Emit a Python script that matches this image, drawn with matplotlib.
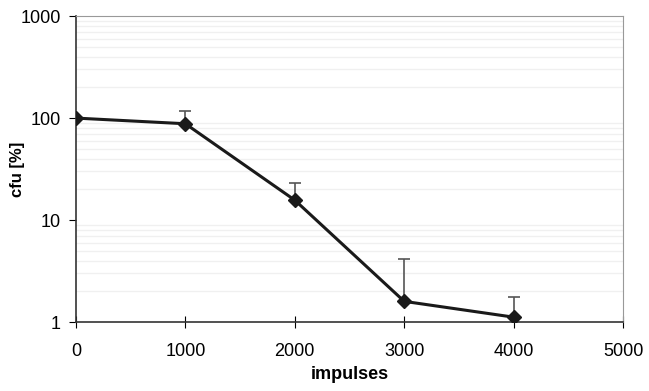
import numpy as np
import matplotlib
matplotlib.use("Agg")
import matplotlib.pyplot as plt
from matplotlib.ticker import LogLocator, FixedLocator, NullFormatter, FuncFormatter

plt.rcParams["font.family"] = ["Liberation Sans", "DejaVu Sans"]

impulses = [0, 1000, 2000, 3000, 4000]
cfu = [100, 88, 15.7, 1.6, 1.12]
cfu_upper = [100, 117, 23, 4.2, 1.76]

fig = plt.figure(figsize=(6.49, 3.91), dpi=100)
ax = fig.add_axes([0.117, 0.176, 0.843, 0.783])

yerr_up = np.array(cfu_upper) - np.array(cfu)
ax.errorbar(impulses, cfu, yerr=[np.zeros(len(cfu)), yerr_up], fmt="none",
            ecolor="#555555", elinewidth=1.2, capsize=4, capthick=1.2, zorder=2)
ax.plot(impulses, cfu, color="#1a1a1a", linewidth=2.2, marker="D",
        markersize=7, markerfacecolor="#1a1a1a", zorder=3)

ax.set_yscale("log")
ax.set_ylim(1, 1000)
ax.set_xlim(0, 5000)
ax.xaxis.set_major_locator(FixedLocator([0, 1000, 2000, 3000, 4000, 5000]))
ax.yaxis.set_major_locator(FixedLocator([1, 10, 100, 1000]))
ax.yaxis.set_major_formatter(FuncFormatter(lambda v, p: f"{v:g}"))
ax.yaxis.set_minor_locator(LogLocator(base=10, subs=np.arange(2, 10)))
ax.yaxis.set_minor_formatter(NullFormatter())
ax.grid(True, which="minor", axis="y", color="#f0f0f0", linewidth=1)
ax.tick_params(axis="y", which="minor", length=0)
ax.tick_params(axis="y", which="major", direction="out", length=5, labelsize=13, pad=6)
ax.tick_params(axis="x", direction="inout", length=8, labelsize=13, pad=11)

for side in ["top", "right"]:
    ax.spines[side].set_color("#999999")
for side in ["left", "bottom"]:
    ax.spines[side].set_color("#333333")
    ax.spines[side].set_linewidth(1.2)

ax.set_xlabel("impulses", fontsize=13, fontweight="bold", labelpad=4)
ax.set_ylabel("cfu [%]", fontsize=12, fontweight="bold", va="center")
ax.yaxis.set_label_coords(-0.106, 0.5)

fig.savefig("out.png", dpi=100)
